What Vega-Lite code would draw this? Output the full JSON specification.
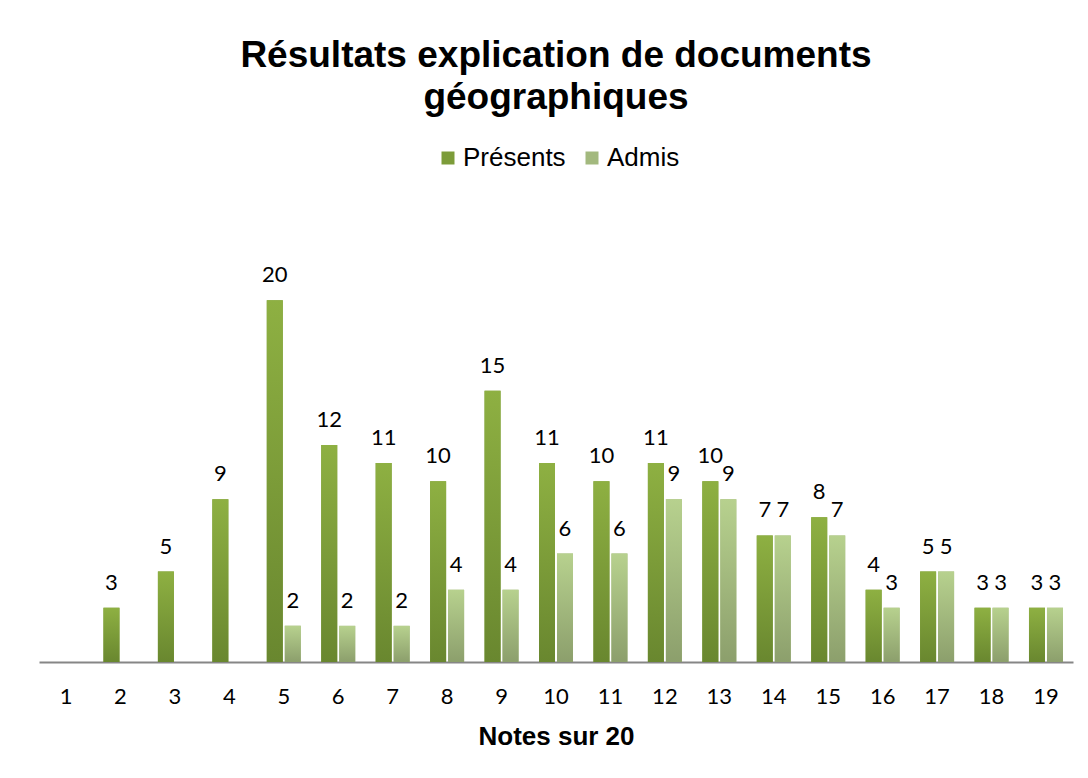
{
  "$schema": "https://vega.github.io/schema/vega-lite/v6.json",
  "width": 1034,
  "height": 434,
  "autosize": {"type": "none"},
  "padding": {"left": 39, "top": 228, "right": 15, "bottom": 116},
  "background": "white",
  "config": {"view": {"stroke": null}},
  "title": {
    "text": ["Résultats explication de documents", "géographiques"],
    "font": "Liberation Sans",
    "fontSize": 37,
    "fontWeight": "bold",
    "color": "#000000",
    "lineHeight": 42,
    "anchor": "middle",
    "offset": 28
  },
  "data": {
    "values": [
      {"note": "1", "serie": "Présents", "n": 0},
      {"note": "2", "serie": "Présents", "n": 3},
      {"note": "3", "serie": "Présents", "n": 5},
      {"note": "4", "serie": "Présents", "n": 9},
      {"note": "5", "serie": "Présents", "n": 20},
      {"note": "5", "serie": "Admis", "n": 2},
      {"note": "6", "serie": "Présents", "n": 12},
      {"note": "6", "serie": "Admis", "n": 2},
      {"note": "7", "serie": "Présents", "n": 11},
      {"note": "7", "serie": "Admis", "n": 2},
      {"note": "8", "serie": "Présents", "n": 10},
      {"note": "8", "serie": "Admis", "n": 4},
      {"note": "9", "serie": "Présents", "n": 15},
      {"note": "9", "serie": "Admis", "n": 4},
      {"note": "10", "serie": "Présents", "n": 11},
      {"note": "10", "serie": "Admis", "n": 6},
      {"note": "11", "serie": "Présents", "n": 10},
      {"note": "11", "serie": "Admis", "n": 6},
      {"note": "12", "serie": "Présents", "n": 11},
      {"note": "12", "serie": "Admis", "n": 9},
      {"note": "13", "serie": "Présents", "n": 10},
      {"note": "13", "serie": "Admis", "n": 9},
      {"note": "14", "serie": "Présents", "n": 7},
      {"note": "14", "serie": "Admis", "n": 7},
      {"note": "15", "serie": "Présents", "n": 8},
      {"note": "15", "serie": "Admis", "n": 7},
      {"note": "16", "serie": "Présents", "n": 4},
      {"note": "16", "serie": "Admis", "n": 3},
      {"note": "17", "serie": "Présents", "n": 5},
      {"note": "17", "serie": "Admis", "n": 5},
      {"note": "18", "serie": "Présents", "n": 3},
      {"note": "18", "serie": "Admis", "n": 3},
      {"note": "19", "serie": "Présents", "n": 3},
      {"note": "19", "serie": "Admis", "n": 3}
    ]
  },
  "encoding": {
    "x": {
      "field": "note",
      "type": "ordinal",
      "sort": ["1","2","3","4","5","6","7","8","9","10","11","12","13","14","15","16","17","18","19"],
      "scale": {"paddingInner": 0.3755, "paddingOuter": 0.184},
      "axis": {
        "title": "Notes sur 20",
        "titleFont": "Liberation Sans",
        "titleFontSize": 26,
        "titleFontWeight": "bold",
        "titleColor": "#000000",
        "titlePadding": 16,
        "labelFont": "Lato",
        "labelFontSize": 22,
        "labelColor": "#000000",
        "labelAngle": 0,
        "labelPadding": 24,
        "ticks": false,
        "domainColor": "#868686",
        "domainWidth": 2,
        "grid": false
      }
    },
    "xOffset": {
      "field": "serie",
      "type": "nominal",
      "sort": ["Présents", "Admis"],
      "scale": {"paddingInner": 0.111, "paddingOuter": 0}
    },
    "y": {
      "field": "n",
      "type": "quantitative",
      "scale": {"domain": [0, 24], "nice": false},
      "axis": null
    }
  },
  "layer": [
    {
      "mark": {"type": "bar"},
      "encoding": {
        "fill": {
          "field": "serie",
          "type": "nominal",
          "sort": ["Présents", "Admis"],
          "scale": {
            "domain": ["Présents", "Admis"],
            "range": ["#7C9C39", "#A3B97E"]
          },
          "legend": {
            "title": null,
            "orient": "none",
            "direction": "horizontal",
            "legendX": 396,
            "legendY": -83,
            "symbolType": "square",
            "symbolSize": 169,
            "symbolStrokeWidth": 0,
            "symbolOpacity": 1,
            "labelFont": "Liberation Sans",
            "labelFontSize": 26,
            "labelColor": "#000000",
            "labelOffset": 2,
            "columnPadding": 13
          }
        }
      }
    },
    {
      "mark": {"type": "bar"},
      "encoding": {
        "fill": {
          "condition": {
            "test": "datum.serie === 'Présents'",
            "value": {"gradient": "linear", "x1": 0, "y1": 0, "x2": 0, "y2": 1,
              "stops": [{"offset": 0, "color": "#8EB042"}, {"offset": 1, "color": "#69872F"}]}
          },
          "value": {"gradient": "linear", "x1": 0, "y1": 0, "x2": 0, "y2": 1,
            "stops": [{"offset": 0, "color": "#B7D18E"}, {"offset": 1, "color": "#8C9F6C"}]}
        }
      }
    },
    {
      "transform": [{"filter": "datum.n > 0"}],
      "mark": {"type": "text", "baseline": "middle", "dy": -25, "font": "Lato", "fontSize": 22, "color": "#000000"},
      "encoding": {
        "text": {"field": "n", "type": "quantitative"}
      }
    }
  ]
}
